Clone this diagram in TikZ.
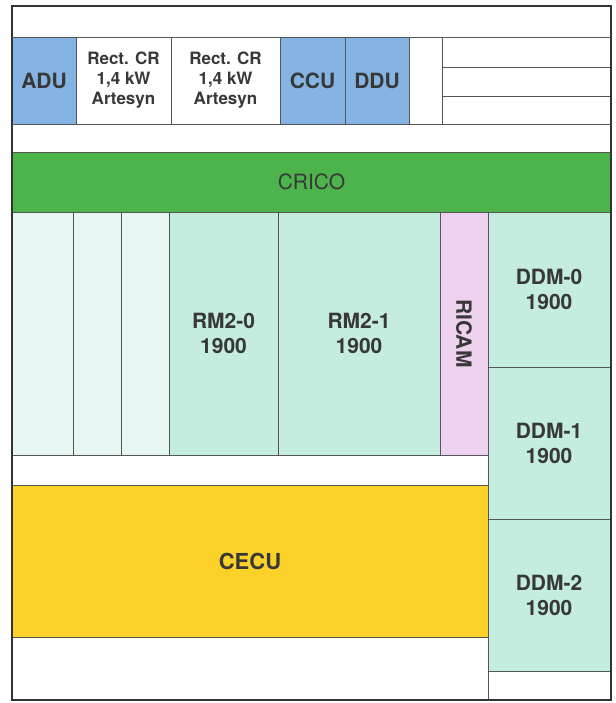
\documentclass[tikz,border=0pt]{standalone}
\usepackage{fontspec}
\setmainfont{TeX Gyre Heros}
\usepackage{tikz}
\usetikzlibrary{positioning}

\definecolor{unitblue}{HTML}{84B3E4}
\definecolor{crgreen}{HTML}{4DB34B}
\definecolor{palecyan}{HTML}{E8F6F3}
\definecolor{mint}{HTML}{C4ECDF}
\definecolor{camPink}{HTML}{EFD2F0}
\definecolor{ecuyellow}{HTML}{FCD12A}
\definecolor{rule}{HTML}{555555}
\definecolor{ink}{HTML}{383838}

\tikzset{
  cell/.style={draw=rule, line width=0.8pt, inner sep=0pt, outer sep=0pt,
    anchor=north west, align=center, text=ink,
    font=\bfseries\fontsize{21}{25}\selectfont},
  small/.style={font=\bfseries\fontsize{17}{20}\selectfont}
}

\begin{document}
\begin{tikzpicture}[x=1pt, y=-1pt]
    \useasboundingbox (0,0) rectangle (615,703);

    % Top row of units
    \node[cell, fill=unitblue, minimum width=64pt, minimum height=87pt] (adu) at (12,37) {ADU};
    \node[cell, small, fill=white, minimum width=95pt, minimum height=87pt] (rect1) at (76,37) {Rect. CR\\1,4 kW\\Artesyn};
    \node[cell, small, fill=white, minimum width=109pt, minimum height=87pt] (rect2) at (171,37) {Rect. CR\\1,4 kW\\Artesyn};
    \node[cell, fill=unitblue, minimum width=65pt, minimum height=87pt] (ccu) at (280,37) {CCU};
    \node[cell, fill=unitblue, minimum width=64pt, minimum height=87pt] (ddu) at (345,37) {DDU};
    \node[cell, fill=white, minimum width=33pt, minimum height=87pt] (gap) at (409,37) {};
    \node[cell, fill=white, minimum width=169pt, minimum height=30pt] (slotA) at (442,37) {};
    \node[cell, fill=white, minimum width=169pt, minimum height=29pt] (slotB) at (442,67) {};
    \node[cell, fill=white, minimum width=169pt, minimum height=28pt] (slotC) at (442,96) {};

    % CRICO bar
    \node[cell, fill=crgreen, minimum width=599pt, minimum height=60pt,
          font=\fontsize{21}{24}\selectfont, text=ink] (crico) at (12,152) {CRICO};

    % Middle row
    \node[cell, fill=palecyan, minimum width=61pt, minimum height=243pt] (bay1) at (12,212) {};
    \node[cell, fill=palecyan, minimum width=48pt, minimum height=243pt] (bay2) at (73,212) {};
    \node[cell, fill=palecyan, minimum width=48pt, minimum height=243pt] (bay3) at (121,212) {};
    \node[cell, fill=mint, minimum width=109pt, minimum height=243pt] (rm0) at (169,212) {RM2-0\\1900};
    \node[cell, fill=mint, minimum width=162pt, minimum height=243pt] (rm1) at (278,212) {RM2-1\\1900};
    \node[cell, fill=camPink, minimum width=48pt, minimum height=243pt] (ricam) at (440,212) {};
    \node[rotate=-90, text=ink, font=\bfseries\fontsize{21}{24}\selectfont] at (ricam.center) {RICAM};

    % DDM column
    \node[cell, fill=mint, minimum width=122pt, minimum height=155pt] (ddm0) at (488,212) {DDM-0\\1900};
    \node[cell, fill=mint, minimum width=122pt, minimum height=152pt] (ddm1) at (488,367) {DDM-1\\1900};
    \node[cell, fill=mint, minimum width=122pt, minimum height=152pt] (ddm2) at (488,519) {DDM-2\\1900};
    \node[cell, fill=white, minimum width=122pt, minimum height=29pt] (ddmfree) at (488,671) {};

    % CECU
    \node[cell, fill=ecuyellow, minimum width=476pt, minimum height=152pt,
          font=\bfseries\fontsize{22}{25}\selectfont] (cecu) at (12,485) {CECU};

    % Frame
    \draw[line width=1.3pt, black!80] (12,6) rectangle (611,700);
    \draw[rule, line width=0.8pt] (12,37) -- (611,37);
    \draw[rule, line width=0.8pt] (12,124) -- (611,124);
\end{tikzpicture}
\end{document}
